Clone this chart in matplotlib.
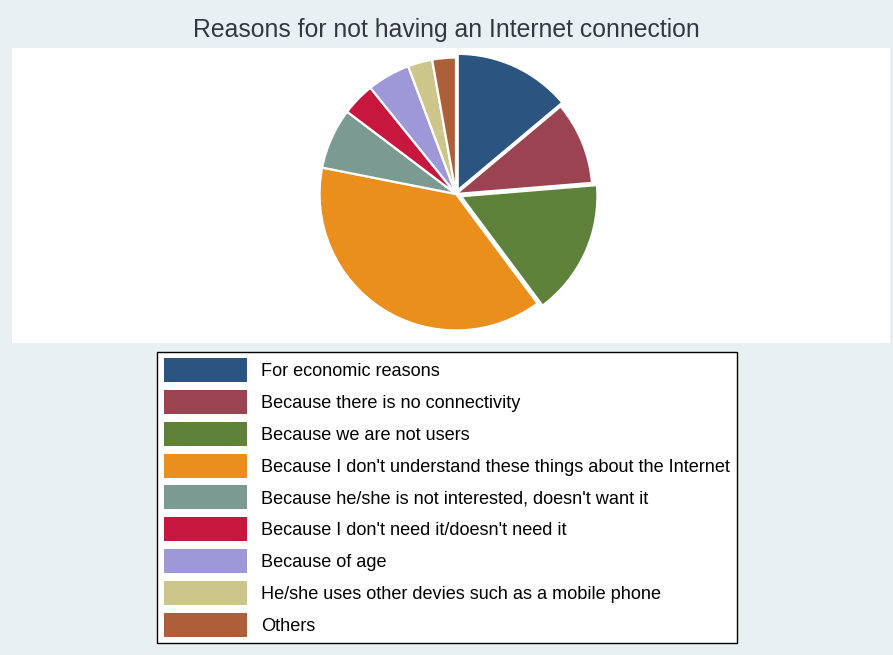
import matplotlib
matplotlib.use("Agg")
import matplotlib.pyplot as plt

plt.rcParams['font.family'] = ['Liberation Sans', 'DejaVu Sans']

# share of households by reason (percent)
reasons = [
    "For economic reasons",
    "Because there is no connectivity",
    "Because we are not users",
    "Because I don't understand these things about the Internet",
    "Because he/she is not interested, doesn't want it",
    "Because I don't need it/doesn't need it",
    "Because of age",
    "He/she uses other devies such as a mobile phone",
    "Others",
]
shares = [13.9, 9.8, 16.1, 38.3, 7.2, 3.9, 5.1, 2.9, 2.8]
colors = ["#2b5580", "#9b4350", "#5f823b", "#ea8f1c", "#7a9a92",
          "#c8173f", "#9f98d8", "#cdc68a", "#ad5f3a"]
explode = [0.03, 0, 0.04, 0, 0, 0, 0, 0, 0]

W, H = 893, 655
fig = plt.figure(figsize=(W / 100, H / 100), dpi=100)
fig.patch.set_facecolor("#e9f0f3")

# white plot region
bg = fig.add_axes([12 / W, 1 - 343 / H, (890 - 12) / W, (343 - 48) / H])
bg.set_facecolor("white")
bg.set_xticks([])
bg.set_yticks([])
for s in bg.spines.values():
    s.set_visible(False)

# pie
cx, cy, half = 456, 194, 146
ax = fig.add_axes([(cx - half) / W, 1 - (cy + half) / H, 2 * half / W, 2 * half / H])
ax.set_facecolor("none")
wedges, _ = ax.pie(shares, colors=colors, startangle=90, counterclock=False,
                   explode=explode, radius=1.0,
                   wedgeprops=dict(edgecolor="white", linewidth=1.6))
ax.set_xlim(-1.07, 1.07)
ax.set_ylim(-1.07, 1.07)
ax.set_aspect("equal")
ax.axis("off")

fig.text(0.5, 1 - 30 / H, "Reasons for not having an Internet connection",
         ha="center", va="center", fontsize=17.8, color="#333840")

leg = fig.legend(wedges, reasons, loc="lower center", bbox_to_anchor=(447 / W, 1 - 643 / H),
                 ncol=1, fontsize=13.1, frameon=True, fancybox=False,
                 edgecolor="black", facecolor="white", framealpha=1,
                 handlelength=4.6, handleheight=1.65, labelspacing=0.43,
                 handletextpad=0.77, borderpad=0.35, borderaxespad=0)
leg.get_frame().set_linewidth(1.0)
for h in leg.legend_handles:
    h.set_edgecolor("none")

fig.savefig("out.png", dpi=100, facecolor=fig.get_facecolor())
